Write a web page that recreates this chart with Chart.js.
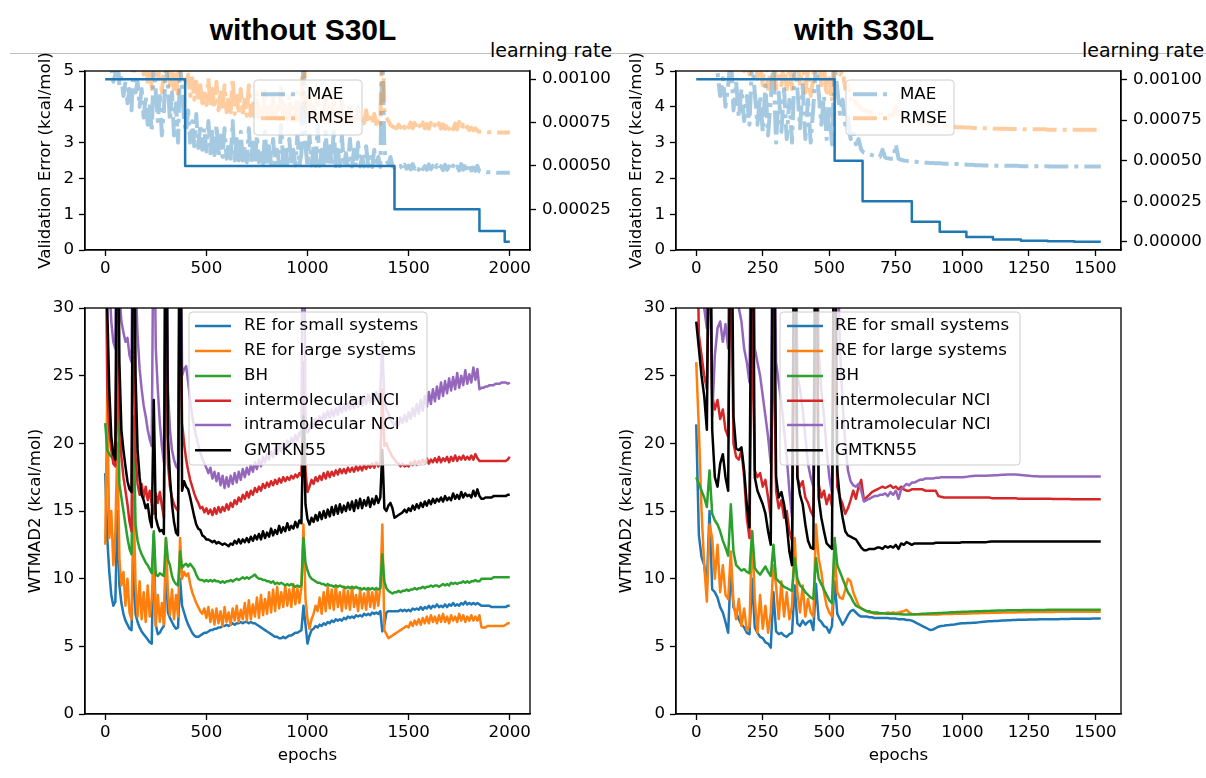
<!DOCTYPE html>
<html>
<head>
<meta charset="utf-8">
<script src="https://cdn.jsdelivr.net/npm/chart.js@4.4.0/dist/chart.umd.min.js"></script>
<style>
  body { margin: 0; width: 1206px; height: 778px; background: #fff; position: relative; overflow: hidden; }
  canvas { position: absolute; }
  .title { position: absolute; top: 15px; font: bold 30px 'Liberation Sans', Arial, sans-serif; line-height: 30px; color: #000; transform: translateX(-50%); white-space: nowrap; }
  .lr-label { position: absolute; top: 41px; font: 19px 'DejaVu Sans', sans-serif; line-height: 19px; color: #000; white-space: nowrap; }
  .rule { position: absolute; left: 10px; top: 53px; width: 1196px; height: 1px; background: #bdbdbd; }
</style>
</head>
<body>
<div class="rule"></div>
<div class="title" style="left:303px">without S30L</div>
<div class="title" style="left:864px">with S30L</div>
<div class="lr-label" style="left:490px">learning rate</div>
<div class="lr-label" style="left:1082px">learning rate</div>
<canvas id="cTL" width="620" height="250" style="left:0px;top:40px"></canvas>
<canvas id="cTR" width="616" height="250" style="left:590px;top:40px"></canvas>
<canvas id="cBL" width="620" height="485" style="left:0px;top:293px"></canvas>
<canvas id="cBR" width="616" height="485" style="left:590px;top:293px"></canvas>
<script>
// sampling interval of every series below (epochs)
const STEP = 10;

// tick labels
const xTicksNo = [0, 500, 1000, 1500, 2000];
const xTicksWith = [0, 250, 500, 750, 1000, 1250, 1500];
const errTicks = [0, 1, 2, 3, 4, 5];
const wtmadTicks = [0, 5, 10, 15, 20, 25, 30];
const lrTicks = [0, 0.00025, 0.0005, 0.00075, 0.001];

// learning rate schedules
const lrEpochsNo = [0, 395, 1430, 1850, 1975, 2000];
const lrValuesNo = [0.001, 0.0005, 0.00025, 0.000125, 0.0000625, 0.0000625];
const lrEpochsWith = [0, 520, 625, 810, 915, 1015, 1115, 1220, 1320, 1420, 1520];
const lrValuesWith = [0.001, 0.0005, 0.00025, 0.000125, 0.0000625, 0.00003125, 0.0000156, 0.0000078, 0.0000039, 0.00000195, 0.00000195];

// ---- without S30L, validation error (epochs 0..2000) ----
const maeNo = [
  7.0, 6.0, 5.4, 5.1, 4.7, 4.9, 5.5, 4.6, 4.8, 4.3,
  4.7, 4.1, 4.5, 3.9, 5.3, 4.4, 4.7, 4.0, 4.5, 3.7,
  4.3, 3.5, 4.1, 3.3, 5.2, 4.4, 3.6, 4.3, 3.2, 3.9,
  5.2, 4.6, 3.6, 4.4, 3.2, 4.1, 3.0, 5.2, 4.5, 3.6,
  3.3, 3.9, 3.0, 3.6, 2.9, 3.8, 2.85, 3.5, 2.8, 3.4,
  2.75, 3.6, 2.7, 3.3, 2.65, 3.5, 2.6, 3.2, 2.6, 3.4,
  2.55, 3.0, 2.55, 3.6, 2.5, 3.1, 2.5, 3.3, 2.5, 2.9,
  2.45, 3.4, 2.45, 3.0, 2.45, 3.2, 2.45, 2.8, 2.4, 3.3,
  2.4, 2.9, 2.4, 3.1, 2.4, 2.8, 2.4, 3.5, 2.38, 2.9,
  2.38, 3.1, 2.38, 2.8, 2.36, 3.2, 2.36, 2.7, 5.5, 2.9,
  2.36, 3.2, 2.36, 2.9, 2.35, 3.5, 2.35, 2.8, 2.35, 3.3,
  2.35, 2.9, 2.34, 3.4, 2.34, 2.8, 2.34, 3.2, 2.34, 2.7,
  2.33, 3.1, 2.33, 2.8, 2.33, 3.0, 2.33, 2.6, 2.33, 2.9,
  2.33, 2.6, 2.32, 2.8, 2.32, 2.6, 2.32, 5.5, 2.8, 2.5,
  2.4, 2.6, 2.35, 2.3, 2.32, 2.28, 2.35, 2.25, 2.38, 2.27,
  2.36, 2.25, 2.4, 2.27, 2.35, 2.24, 2.38, 2.26, 2.34, 2.24,
  2.39, 2.26, 2.35, 2.23, 2.37, 2.25, 2.34, 2.23, 2.38, 2.24,
  2.34, 2.22, 2.36, 2.24, 2.33, 2.22, 2.4, 2.24, 2.45, 2.23,
  2.36, 2.22, 2.3, 2.21, 2.35, 2.2, 2.18, 2.18, 2.18, 2.17,
  2.17, 2.17, 2.17, 2.17, 2.16, 2.16, 2.16, 2.16, 2.16, 2.16,
  2.16
];
const rmseNo = [
  9.0, 8.0, 7.2, 6.8, 6.3, 6.0, 7.0, 6.0, 6.2, 5.6,
  5.9, 5.3, 5.7, 5.1, 6.8, 5.6, 5.9, 5.2, 5.6, 4.9,
  5.4, 4.7, 5.2, 4.5, 6.5, 5.4, 4.7, 5.2, 4.4, 5.0,
  6.4, 5.5, 4.6, 5.1, 4.4, 4.9, 4.3, 6.3, 5.4, 4.8,
  4.6, 4.9, 4.3, 4.8, 4.2, 4.7, 4.15, 4.6, 4.1, 4.5,
  4.05, 4.8, 4.0, 4.5, 3.95, 4.7, 3.9, 4.4, 3.9, 4.6,
  3.85, 4.3, 3.85, 4.8, 3.8, 4.3, 3.8, 4.5, 3.78, 4.2,
  3.75, 4.6, 3.75, 4.2, 3.72, 4.4, 3.72, 4.0, 3.7, 4.5,
  3.7, 4.1, 3.68, 4.3, 3.68, 4.0, 3.66, 4.6, 3.66, 4.1,
  3.65, 4.3, 3.64, 4.0, 3.63, 4.4, 3.62, 3.9, 6.5, 4.1,
  3.62, 4.3, 3.61, 4.0, 3.6, 4.5, 3.6, 3.9, 3.6, 4.3,
  3.58, 4.0, 3.58, 4.4, 3.57, 3.9, 3.57, 4.2, 3.56, 3.8,
  3.56, 4.1, 3.55, 3.8, 3.55, 4.0, 3.55, 3.7, 3.54, 3.9,
  3.54, 3.7, 3.53, 3.8, 3.52, 3.7, 3.52, 6.5, 3.9, 3.7,
  3.6, 3.5, 3.45, 3.42, 3.4, 3.5, 3.42, 3.55, 3.4, 3.52,
  3.42, 3.56, 3.4, 3.55, 3.41, 3.53, 3.4, 3.56, 3.4, 3.52,
  3.39, 3.55, 3.4, 3.5, 3.38, 3.54, 3.39, 3.51, 3.38, 3.55,
  3.38, 3.5, 3.37, 3.53, 3.37, 3.58, 3.38, 3.5, 3.36, 3.45,
  3.35, 3.42, 3.34, 3.4, 3.33, 3.3, 3.3, 3.3, 3.3, 3.29,
  3.29, 3.29, 3.29, 3.29, 3.28, 3.28, 3.28, 3.28, 3.28, 3.28,
  3.28
];

// ---- with S30L, validation error (epochs 0..1520) ----
const maeWith = [
  8.0, 7.0, 6.3, 5.8, 5.4, 6.5, 5.5, 5.2, 4.95, 4.3,
  4.8, 4.0, 4.6, 5.5, 3.9, 4.7, 3.7, 4.5, 3.6, 4.3,
  3.5, 5.3, 4.4, 3.5, 4.3, 3.3, 4.6, 3.2, 4.2, 5.2,
  3.0, 4.4, 3.3, 4.5, 3.1, 4.2, 3.0, 5.2, 4.5, 3.4,
  4.6, 3.1, 4.2, 3.0, 4.0, 5.2, 4.4, 3.5, 4.3, 3.1,
  4.0, 2.95, 5.2, 4.5, 3.8, 4.2, 3.5, 3.7, 3.1, 3.3,
  2.95, 3.1, 2.8, 2.72, 2.7, 2.68, 2.65, 2.63, 2.6, 2.6,
  2.8, 2.58, 2.56, 2.55, 2.55, 2.95, 2.55, 2.52, 2.5, 2.49,
  2.48, 2.47, 2.47, 2.46, 2.45, 2.45, 2.44, 2.44, 2.43, 2.43,
  2.42, 2.42, 2.42, 2.41, 2.41, 2.41, 2.4, 2.4, 2.4, 2.39,
  2.39, 2.39, 2.38, 2.38, 2.38, 2.37, 2.37, 2.37, 2.36, 2.36,
  2.36, 2.36, 2.36, 2.35, 2.35, 2.35, 2.35, 2.35, 2.35, 2.35,
  2.35, 2.35, 2.34, 2.34, 2.34, 2.34, 2.34, 2.34, 2.34, 2.34,
  2.34, 2.34, 2.34, 2.33, 2.33, 2.33, 2.33, 2.33, 2.33, 2.33,
  2.33, 2.33, 2.33, 2.33, 2.33, 2.33, 2.33, 2.33, 2.33, 2.33,
  2.33, 2.33, 2.33
];
const rmseWith = [
  10.0, 9.0, 8.2, 7.5, 7.0, 8.0, 7.0, 6.6, 6.3, 5.8,
  6.2, 5.6, 6.0, 7.0, 5.4, 5.9, 5.2, 5.7, 5.0, 5.5,
  4.9, 6.5, 5.6, 4.8, 5.4, 4.6, 5.5, 4.5, 5.2, 6.3,
  4.5, 5.4, 4.6, 5.3, 4.5, 5.1, 4.5, 6.3, 5.5, 4.6,
  5.3, 4.4, 5.0, 4.3, 4.8, 6.3, 5.4, 4.6, 5.1, 4.3,
  4.8, 4.15, 6.2, 5.4, 4.9, 5.0, 4.5, 4.6, 4.2, 4.3,
  4.1, 4.05, 3.95, 3.9, 3.88, 3.86, 3.84, 3.82, 3.8, 3.8,
  3.85, 3.79, 3.78, 3.77, 3.76, 4.0, 3.74, 3.72, 3.7, 3.68,
  3.66, 3.64, 3.62, 3.6, 3.58, 3.56, 3.54, 3.52, 3.5, 3.49,
  3.48, 3.47, 3.46, 3.46, 3.45, 3.45, 3.44, 3.44, 3.43, 3.43,
  3.43, 3.42, 3.42, 3.42, 3.41, 3.41, 3.41, 3.41, 3.4, 3.4,
  3.4, 3.4, 3.39, 3.39, 3.39, 3.39, 3.39, 3.38, 3.38, 3.38,
  3.38, 3.38, 3.38, 3.37, 3.37, 3.37, 3.37, 3.37, 3.37, 3.37,
  3.37, 3.37, 3.36, 3.36, 3.36, 3.36, 3.36, 3.36, 3.36, 3.36,
  3.36, 3.36, 3.36, 3.36, 3.36, 3.36, 3.36, 3.36, 3.36, 3.36,
  3.36, 3.36, 3.36
];

// ---- without S30L, WTMAD2 (epochs 0..2000) ----
const smallNo = [
  17.8, 13.0, 10.5, 8.8, 8.0, 8.3, 15.0, 9.5, 8.2, 7.4,
  6.9, 6.6, 6.3, 6.2, 12.0, 7.4, 6.8, 6.4, 6.1, 5.9,
  5.7, 5.5, 5.3, 5.2, 13.3, 6.6, 5.9, 6.0, 6.3, 6.5,
  11.0, 7.5, 7.1, 6.8, 6.5, 6.3, 6.4, 10.0, 8.0, 7.5,
  7.0, 6.6, 6.3, 6.0, 5.8, 5.7, 5.7, 5.8, 5.9, 6.0,
  6.0, 6.1, 6.2, 6.2, 6.3, 6.3, 6.4, 6.4, 6.5, 6.5,
  6.6, 6.5, 6.6, 6.7, 6.6, 6.7, 6.7, 6.8, 6.7, 6.8,
  6.8, 6.7, 6.8, 6.7, 6.7, 6.6, 6.5, 6.4, 6.3, 6.2,
  6.1, 6.0, 5.9, 5.8, 5.7, 5.7, 5.6, 5.6, 5.7, 5.6,
  5.7, 5.8, 5.8, 5.9, 6.0, 6.0, 6.1, 6.2, 8.0, 6.6,
  5.2, 5.8, 6.2, 6.3, 6.5, 6.4, 6.6, 6.5, 6.7, 6.6,
  6.8, 6.7, 6.9, 6.8, 7.0, 6.9, 7.0, 6.9, 7.1, 7.0,
  7.2, 7.1, 7.2, 7.1, 7.3, 7.2, 7.3, 7.2, 7.4, 7.3,
  7.4, 7.3, 7.5, 7.4, 7.5, 7.4, 7.6, 6.1, 6.6, 7.5,
  7.6, 7.6, 7.6, 7.6, 7.6, 7.6, 7.7, 7.6, 7.7, 7.6,
  7.7, 7.6, 7.8, 7.7, 7.8, 7.7, 7.9, 7.7, 7.9, 7.8,
  8.0, 7.8, 8.0, 7.9, 8.1, 7.9, 8.0, 7.9, 8.1, 7.9,
  8.1, 8.0, 8.2, 8.0, 8.1, 8.0, 8.2, 8.1, 8.3, 8.1,
  8.2, 8.1, 8.2, 8.1, 8.2, 8.1, 8.0, 8.0, 8.0, 8.0,
  8.0, 7.9, 7.9, 7.9, 7.9, 7.9, 7.9, 7.9, 7.9, 8.0,
  8.0
];
const largeNo = [
  12.5, 24.0, 13.0, 15.0, 11.0, 13.5, 20.0, 11.5, 9.5, 10.5,
  8.0, 10.0, 7.5, 7.0, 16.0, 9.5, 7.2, 9.8, 7.0, 9.0,
  6.8, 9.5, 7.2, 8.5, 11.5, 6.5, 8.8, 6.8, 8.2, 6.6,
  13.0, 9.0, 7.3, 9.2, 7.0, 8.8, 7.2, 13.0, 10.0, 10.5,
  10.2, 10.4, 9.6, 9.0, 8.6, 8.2, 7.9, 7.6, 7.4, 7.8,
  7.1, 7.9, 6.8, 7.7, 6.6, 7.8, 6.7, 7.6, 6.5, 7.9,
  6.8, 7.5, 6.6, 7.8, 6.9, 8.0, 6.8, 7.7, 7.0, 8.2,
  6.9, 8.4, 7.0, 8.1, 7.2, 8.6, 7.1, 8.8, 7.3, 8.5,
  7.4, 9.0, 7.5, 9.2, 7.6, 9.4, 7.8, 9.0, 7.9, 9.5,
  8.0, 9.2, 7.9, 9.6, 8.1, 9.3, 8.2, 9.4, 14.0, 8.5,
  7.0, 6.3, 7.0, 7.4, 8.0, 7.6, 8.6, 7.4, 9.0, 7.6,
  9.4, 7.8, 9.2, 7.7, 9.5, 7.9, 9.0, 7.6, 9.3, 7.8,
  9.1, 7.7, 9.4, 7.9, 8.8, 7.6, 9.2, 7.8, 8.9, 7.7,
  9.3, 7.9, 9.0, 7.8, 9.2, 8.0, 9.4, 14.0, 6.2, 5.9,
  5.6, 5.7, 5.8, 5.9, 6.0, 6.1, 6.2, 6.3, 6.4, 6.5,
  6.4, 6.8, 6.5, 6.9, 6.6, 7.0, 6.6, 7.1, 6.7, 7.2,
  6.7, 7.3, 6.8, 7.2, 6.7, 7.3, 6.8, 7.4, 6.8, 7.2,
  6.7, 7.3, 6.9, 7.2, 6.8, 7.4, 6.9, 7.3, 6.8, 7.2,
  6.9, 7.3, 6.9, 7.2, 6.9, 7.3, 6.4, 6.4, 6.4, 6.5,
  6.5, 6.5, 6.5, 6.5, 6.5, 6.5, 6.5, 6.5, 6.6, 6.7,
  6.7
];
const bhNo = [
  21.5, 19.5, 19.2, 19.0, 18.9, 18.8, 26.0, 17.0, 16.0, 15.0,
  14.0, 13.0, 12.2, 11.8, 22.0, 14.0, 12.8, 12.2, 11.8, 11.5,
  11.2, 11.0, 10.7, 10.4, 13.5, 10.3, 10.2, 10.4, 10.3, 10.2,
  13.0, 11.4, 11.0, 10.2, 9.8, 9.6, 9.5, 12.0, 10.8, 11.0,
  11.1, 10.9, 11.1, 10.9, 10.7, 10.3, 10.0, 9.9, 9.9, 9.8,
  9.9, 9.8, 9.9, 9.8, 9.9, 9.8, 9.8, 9.7, 9.8, 9.7,
  9.8, 9.8, 9.9, 9.8, 9.9, 10.0, 9.9, 10.0, 10.1, 10.0,
  10.1, 10.0, 10.1, 10.2, 10.3, 10.1, 10.0, 10.0, 9.9, 9.9,
  9.8, 9.8, 9.7, 9.8, 9.6, 9.7, 9.6, 9.7, 9.6, 9.5,
  9.6, 9.5, 9.6, 9.5, 9.4, 9.5, 9.4, 9.5, 13.0, 11.2,
  10.6, 10.2, 10.0, 9.9, 9.8, 9.7, 9.7, 9.6, 9.6, 9.5,
  9.6, 9.5, 9.5, 9.4, 9.5, 9.4, 9.5, 9.4, 9.4, 9.3,
  9.4, 9.3, 9.4, 9.3, 9.4, 9.3, 9.3, 9.2, 9.3, 9.2,
  9.3, 9.2, 9.3, 9.2, 9.3, 9.2, 9.3, 11.8, 9.8, 9.3,
  9.1, 9.0, 8.9, 9.0, 9.0, 9.1, 9.0, 9.1, 9.1, 9.2,
  9.1, 9.2, 9.2, 9.3, 9.2, 9.3, 9.3, 9.4, 9.3, 9.4,
  9.4, 9.5, 9.4, 9.5, 9.5, 9.4, 9.5, 9.6, 9.5, 9.6,
  9.5, 9.7, 9.6, 9.7, 9.6, 9.7, 9.7, 9.8, 9.7, 9.8,
  9.7, 9.8, 9.8, 9.9, 9.8, 9.8, 10.0, 10.0, 10.0, 10.0,
  10.0, 10.0, 10.1, 10.1, 10.1, 10.1, 10.1, 10.1, 10.1, 10.1,
  10.1
];
const interNo = [
  40, 24, 21, 19.5, 18.5, 18.3, 35, 22, 19, 17.5,
  16.5, 15.5, 14.2, 13.5, 35, 19, 17.0, 16.2, 17.0, 16.0,
  16.8, 15.8, 16.5, 15.5, 14.8, 16.3, 15.6, 16.4, 15.4, 14.5,
  35, 18.5, 16.8, 16.0, 15.5, 15.2, 15.0, 35, 21.5, 20.0,
  18.8, 18.0, 17.3, 16.8, 16.3, 15.9, 15.6, 15.2, 15.3, 14.9,
  15.2, 14.8, 15.1, 14.7, 15.2, 14.8, 15.3, 14.9, 15.3, 15.0,
  15.5, 15.1, 15.6, 15.3, 15.8, 15.5, 16.0, 15.7, 16.2, 15.9,
  16.4, 16.0, 16.5, 16.2, 16.7, 16.4, 16.8, 16.5, 17.0, 16.7,
  17.1, 16.8, 17.2, 16.9, 17.3, 17.0, 17.4, 17.1, 17.5, 17.2,
  17.5, 17.3, 17.6, 17.4, 17.7, 17.5, 17.8, 17.6, 26, 18.0,
  16.4, 16.8, 17.3, 17.0, 17.5, 17.2, 17.6, 17.3, 17.8, 17.4,
  17.9, 17.5, 17.9, 17.6, 18.0, 17.7, 18.1, 17.8, 18.1, 17.8,
  18.2, 17.9, 18.2, 17.9, 18.3, 18.0, 18.3, 18.0, 18.4, 18.1,
  18.4, 18.2, 18.5, 18.2, 18.6, 18.3, 18.6, 24, 19.8, 20.0,
  19.6, 19.3, 19.0, 18.8, 18.6, 18.5, 18.3, 18.5, 18.3, 18.4,
  18.3, 18.6, 18.4, 18.7, 18.4, 18.7, 18.5, 18.8, 18.5, 18.9,
  18.5, 18.8, 18.6, 18.9, 18.6, 19.0, 18.6, 18.9, 18.7, 19.0,
  18.6, 19.0, 18.7, 19.1, 18.7, 19.0, 18.8, 19.1, 18.8, 19.0,
  18.8, 19.1, 18.8, 19.2, 18.9, 18.7, 18.7, 18.7, 18.7, 18.7,
  18.7, 18.7, 18.7, 18.7, 18.7, 18.7, 18.7, 18.7, 18.7, 18.8,
  19.0
];
const intraNo = [
  45, 36, 32, 29, 27.5, 27.0, 45, 31, 29, 28.2,
  27.5, 27.8, 26.5, 26.0, 45, 32, 28, 25.5, 24.0, 22.8,
  22.0, 21.0, 20.3, 19.8, 40, 27.0, 24.0, 21.5, 19.8, 18.6,
  45, 24, 21, 19.5, 18.8, 18.3, 18.1, 45, 25.0, 25.5,
  25.7, 24.5, 23.2, 22.0, 21.2, 20.5, 19.9, 19.3, 18.9, 18.5,
  18.2, 17.8, 18.2, 17.4, 17.9, 17.2, 17.8, 16.9, 17.6, 16.7,
  17.5, 16.8, 17.6, 17.0, 17.8, 17.1, 17.9, 17.3, 18.1, 17.5,
  18.2, 17.7, 18.4, 17.9, 18.6, 18.1, 18.8, 18.3, 19.0, 18.6,
  19.2, 18.8, 19.4, 19.0, 19.6, 19.2, 19.8, 19.4, 20.0, 19.6,
  20.2, 19.8, 20.4, 20.0, 20.6, 20.2, 20.8, 20.5, 45, 22.0,
  20.8, 21.0, 21.5, 21.2, 21.8, 21.4, 22.0, 21.6, 22.2, 21.8,
  22.4, 21.9, 22.5, 22.0, 22.6, 22.1, 22.8, 22.3, 22.9, 22.4,
  23.0, 22.5, 23.1, 22.6, 23.2, 22.7, 23.4, 22.8, 23.5, 22.9,
  23.6, 23.0, 23.7, 23.1, 23.8, 23.2, 23.9, 27.5, 23.0, 22.5,
  22.2, 21.8, 21.5, 21.3, 21.6, 21.4, 21.9, 21.5, 22.1, 21.6,
  22.3, 21.8, 22.6, 22.0, 22.9, 22.2, 23.2, 22.4, 23.5, 22.7,
  23.8, 22.9, 24.0, 23.1, 24.2, 23.3, 24.5, 23.5, 24.6, 23.7,
  24.8, 23.9, 24.9, 24.0, 25.2, 24.1, 25.0, 24.3, 25.4, 24.4,
  25.1, 24.5, 25.6, 24.7, 25.5, 24.0, 24.1, 24.1, 24.2, 24.2,
  24.3, 24.3, 24.3, 24.4, 24.4, 24.4, 24.5, 24.5, 24.5, 24.4,
  24.5
];
const gmtknNo = [
  48, 30, 24, 20.5, 19.2, 18.8, 45, 26, 21, 19.5,
  18.3, 17.2, 16.6, 16.4, 45, 25, 19.5, 17.5, 16.2, 15.8,
  15.2, 15.5, 14.4, 13.8, 23.2, 14.5, 13.9, 13.5, 13.6, 13.3,
  45, 20.5, 17.5, 15.5, 14.2, 13.4, 13.2, 45, 16.5, 17.2,
  16.8, 16.6, 16.0, 15.3, 14.6, 14.0, 13.7, 13.6, 13.2, 13.1,
  12.9, 12.9, 12.8, 12.7, 12.8, 12.6, 12.7, 12.6, 12.5, 12.6,
  12.5, 12.4, 12.6, 12.5, 12.8, 12.6, 12.9, 12.6, 12.9, 12.7,
  13.0, 12.7, 13.1, 12.8, 13.2, 12.9, 13.3, 12.9, 13.5, 13.0,
  13.4, 13.1, 13.7, 13.2, 13.6, 13.3, 13.9, 13.4, 13.8, 13.5,
  14.1, 13.6, 13.9, 13.7, 14.2, 13.8, 14.3, 14.1, 22.0, 15.5,
  14.4, 14.0, 14.5, 14.2, 14.7, 14.3, 14.9, 14.4, 15.0, 14.5,
  15.1, 14.6, 15.3, 14.7, 15.4, 14.8, 15.5, 14.9, 15.4, 15.0,
  15.6, 15.1, 15.7, 15.0, 15.8, 15.2, 15.9, 15.2, 15.8, 15.4,
  16.0, 15.3, 15.9, 15.5, 16.1, 15.6, 16.0, 19.5, 15.2, 15.0,
  15.4, 15.6, 15.2, 14.5, 14.6, 14.7, 14.8, 14.9, 15.1, 14.9,
  15.2, 15.0, 15.4, 15.1, 15.5, 15.2, 15.6, 15.3, 15.7, 15.4,
  15.8, 15.5, 15.9, 15.6, 15.9, 15.7, 16.0, 15.7, 16.1, 15.8,
  16.0, 15.8, 16.3, 15.9, 16.2, 15.9, 16.4, 16.0, 16.3, 16.1,
  16.2, 16.0, 16.5, 16.1, 16.6, 16.1, 15.9, 15.9, 16.0, 16.0,
  16.0, 16.0, 16.1, 16.1, 16.1, 16.1, 16.1, 16.1, 16.1, 16.2,
  16.2
];

// ---- with S30L, WTMAD2 (epochs 0..1520) ----
const smallWith = [
  21.4, 13.2, 11.6, 11.0, 9.6, 15.0, 9.2, 9.0, 8.6, 7.9,
  7.5, 6.8, 6.0, 10.8, 7.9, 7.5, 7.0, 6.6, 6.4, 6.0,
  5.9, 10.0, 6.4, 6.0, 5.7, 5.6, 5.3, 5.2, 4.9, 9.0,
  6.1, 5.9, 6.0, 5.8, 5.7, 5.9, 6.0, 9.5, 6.7, 6.5,
  6.9, 6.6, 6.8, 6.9, 6.2, 9.6, 7.0, 6.8, 6.5, 6.4,
  6.0, 6.5, 9.8, 7.4, 7.0, 6.6, 6.9, 7.3, 7.6, 7.7,
  7.5, 7.3, 7.2, 7.2, 7.2, 7.15, 7.15, 7.1, 7.1, 7.1,
  7.1, 7.1, 7.1, 7.05, 7.05, 7.05, 7.0, 7.0, 7.0, 6.95,
  6.95, 6.9, 6.8, 6.7, 6.6, 6.5, 6.4, 6.3, 6.2, 6.25,
  6.35, 6.45, 6.5, 6.52, 6.55, 6.57, 6.6, 6.62, 6.65, 6.68,
  6.7, 6.71, 6.72, 6.73, 6.74, 6.75, 6.77, 6.79, 6.81, 6.83,
  6.85, 6.86, 6.87, 6.88, 6.89, 6.9, 6.91, 6.92, 6.93, 6.94,
  6.95, 6.96, 6.96, 6.97, 6.97, 6.98, 6.98, 6.99, 6.99, 7.0,
  7.0, 7.0, 7.0, 7.01, 7.01, 7.01, 7.01, 7.02, 7.02, 7.02,
  7.02, 7.03, 7.03, 7.03, 7.03, 7.04, 7.04, 7.04, 7.04, 7.05,
  7.05, 7.05, 7.05
];
const largeWith = [
  26.0, 21.0, 15.0, 11.0, 8.3, 14.0, 13.0, 10.0, 12.5, 9.0,
  11.0, 8.8, 8.5, 12.0, 8.2, 7.0, 8.5, 6.5, 7.8, 6.2,
  6.5, 13.5, 8.5, 6.0, 8.8, 6.3, 8.0, 6.0, 7.5, 11.0,
  9.5, 7.0, 9.8, 7.2, 9.0, 7.0, 8.0, 13.0, 9.0, 7.5,
  9.5, 7.2, 8.5, 7.5, 7.2, 14.0, 11.5, 10.5, 9.0, 8.0,
  7.5, 7.2, 12.0, 9.0, 8.6, 8.5, 9.2, 10.0, 9.8, 9.0,
  8.5, 8.0, 7.8, 7.7, 7.6, 7.5, 7.5, 7.4, 7.4, 7.4,
  7.45, 7.45, 7.5, 7.45, 7.5, 7.45, 7.5, 7.55, 7.6, 7.7,
  7.5, 7.4, 7.35, 7.35, 7.35, 7.35, 7.35, 7.35, 7.35, 7.35,
  7.35, 7.36, 7.37, 7.38, 7.38, 7.39, 7.39, 7.4, 7.4, 7.4,
  7.4, 7.41, 7.42, 7.43, 7.44, 7.45, 7.45, 7.46, 7.46, 7.47,
  7.47, 7.48, 7.48, 7.49, 7.49, 7.5, 7.5, 7.5, 7.5, 7.5,
  7.5, 7.51, 7.51, 7.52, 7.52, 7.52, 7.53, 7.53, 7.53, 7.53,
  7.54, 7.54, 7.54, 7.54, 7.54, 7.55, 7.55, 7.55, 7.55, 7.55,
  7.55, 7.55, 7.55, 7.55, 7.55, 7.55, 7.56, 7.56, 7.56, 7.56,
  7.56, 7.56, 7.56
];
const bhWith = [
  17.5, 17.0, 16.5, 16.0, 15.3, 18.0, 14.8, 14.3, 14.0, 13.5,
  12.8, 12.3, 11.7, 15.5, 12.0, 11.0, 10.8, 10.6, 10.7, 10.5,
  10.4, 13.5, 10.8, 10.5, 10.3, 10.6, 10.9, 10.5, 10.2, 12.5,
  10.0, 9.8, 9.6, 9.4, 9.3, 9.2, 9.1, 11.5, 10.0, 9.5,
  9.3, 9.0, 8.8, 8.6, 8.5, 11.5, 10.0, 9.6, 9.2, 8.8,
  8.4, 8.2, 13.0, 11.0, 10.5, 10.0, 9.5, 9.0, 8.7, 8.3,
  8.0, 7.9, 7.8, 7.7, 7.6, 7.6, 7.5, 7.5, 7.5, 7.45,
  7.45, 7.42, 7.4, 7.4, 7.4, 7.38, 7.38, 7.37, 7.36, 7.35,
  7.35, 7.36, 7.37, 7.38, 7.39, 7.4, 7.41, 7.42, 7.43, 7.44,
  7.45, 7.46, 7.47, 7.48, 7.49, 7.5, 7.51, 7.52, 7.53, 7.54,
  7.55, 7.56, 7.56, 7.57, 7.58, 7.59, 7.6, 7.6, 7.61, 7.62,
  7.62, 7.63, 7.63, 7.64, 7.64, 7.65, 7.65, 7.66, 7.66, 7.66,
  7.67, 7.67, 7.67, 7.68, 7.68, 7.68, 7.68, 7.69, 7.69, 7.69,
  7.69, 7.69, 7.7, 7.7, 7.7, 7.7, 7.7, 7.7, 7.7, 7.7,
  7.7, 7.7, 7.7, 7.7, 7.7, 7.7, 7.7, 7.7, 7.7, 7.7,
  7.7, 7.7, 7.7
];
const interWith = [
  40, 28, 26.5, 25, 24, 35, 23.5, 22.5, 23.2, 21.8,
  22.5, 21.0, 20.5, 35, 20.0, 19.0, 18.8, 19.5, 17.5, 14.5,
  13.0, 30, 18.0, 17.5, 17.8, 16.8, 17.3, 16.0, 14.5, 30,
  16.5, 15.2, 15.8, 14.5, 15.0, 13.5, 12.8, 30, 17.5, 16.8,
  17.2, 16.0, 15.6, 15.0, 14.6, 30, 17.0, 16.0, 16.5, 15.5,
  16.2, 15.4, 30, 16.8, 16.0, 15.5, 14.8, 15.2, 15.8, 16.5,
  15.9, 16.8, 17.3, 15.8, 16.0, 16.2, 16.4, 16.5, 16.6, 16.7,
  16.8, 16.7, 16.8, 16.9, 16.7, 16.8, 16.6, 16.8, 16.6, 16.5,
  16.5, 16.6, 16.6, 16.6, 16.6, 16.6, 16.5, 16.5, 16.5, 16.5,
  16.5, 16.1, 16.05, 16.0, 16.0, 16.0, 16.0, 16.0, 16.0, 16.0,
  16.0, 16.0, 16.0, 16.0, 16.0, 16.0, 16.0, 16.0, 16.0, 16.0,
  16.0, 15.95, 15.95, 15.95, 15.95, 15.95, 15.95, 15.95, 15.95, 15.95,
  15.95, 15.9, 15.9, 15.9, 15.9, 15.9, 15.9, 15.9, 15.9, 15.9,
  15.9, 15.9, 15.9, 15.9, 15.88, 15.88, 15.88, 15.88, 15.88, 15.88,
  15.88, 15.87, 15.87, 15.87, 15.87, 15.87, 15.86, 15.86, 15.86, 15.86,
  15.86, 15.86, 15.86
];
const intraWith = [
  45, 36, 32, 30, 28.5, 45, 22.0, 26.5, 28.5, 29.0,
  27.5, 28.8, 27.0, 45, 32, 31, 30, 29, 27, 26.0,
  24.5, 45, 27.0, 26.0, 25.0, 23.5, 22.0, 20.5, 18.5, 45,
  26.0, 24.5, 23.0, 21.0, 19.0, 16.5, 14.5, 45, 25.0, 24.0,
  22.5, 20.5, 18.5, 17.5, 16.8, 45, 27.0, 24.0, 22.0, 19.5,
  17.5, 16.3, 45, 35, 27, 23, 20.0, 18.0, 17.2, 16.9,
  16.8, 17.0, 16.5, 15.7, 15.8, 15.9, 16.0, 16.1, 16.1, 16.2,
  16.2, 16.3, 16.1, 16.4, 16.2, 16.5, 15.9, 16.6, 16.8, 17.0,
  16.9, 17.1, 17.1, 17.2, 17.3, 17.3, 17.4, 17.4, 17.4, 17.4,
  17.45, 17.45, 17.5, 17.5, 17.5, 17.5, 17.5, 17.5, 17.5, 17.5,
  17.5, 17.52, 17.54, 17.56, 17.58, 17.6, 17.6, 17.6, 17.6, 17.6,
  17.62, 17.63, 17.64, 17.65, 17.66, 17.67, 17.68, 17.69, 17.7, 17.7,
  17.7, 17.68, 17.66, 17.64, 17.62, 17.6, 17.58, 17.57, 17.56, 17.55,
  17.55, 17.55, 17.55, 17.55, 17.55, 17.55, 17.55, 17.55, 17.55, 17.55,
  17.55, 17.55, 17.55, 17.55, 17.55, 17.55, 17.55, 17.55, 17.55, 17.55,
  17.55, 17.55, 17.55
];
const gmtknWith = [
  29, 27, 25, 23.5, 21, 45, 21, 17.5, 16.8, 18.5,
  19.2, 17.5, 16.5, 45, 22, 19.6, 19.5, 19.7, 18.0, 15.5,
  13.8, 45, 17.5, 16.5, 16.0, 15.5, 14.8, 13.5, 12.5, 45,
  17.5, 16.0, 16.4, 15.5, 14.0, 12.0, 11.0, 45, 17.5, 16.2,
  15.5, 14.0, 12.8, 12.3, 12.2, 45, 16.0, 14.5, 13.5, 12.6,
  12.4, 12.2, 45, 18.0, 15.8, 14.5, 13.5, 13.2, 13.1, 13.0,
  12.9, 12.6, 12.3, 12.1, 12.1, 12.2, 12.2, 12.2, 12.3, 12.3,
  12.2, 12.4, 12.3, 12.4, 12.3, 12.5, 12.2, 12.6, 12.5, 12.7,
  12.6, 12.5, 12.6, 12.6, 12.6, 12.6, 12.6, 12.6, 12.6, 12.6,
  12.65, 12.65, 12.65, 12.65, 12.65, 12.65, 12.65, 12.65, 12.65, 12.65,
  12.7, 12.7, 12.7, 12.7, 12.7, 12.7, 12.7, 12.7, 12.7, 12.7,
  12.72, 12.74, 12.75, 12.75, 12.75, 12.75, 12.75, 12.75, 12.75, 12.75,
  12.75, 12.75, 12.75, 12.75, 12.75, 12.75, 12.75, 12.75, 12.75, 12.75,
  12.75, 12.75, 12.75, 12.75, 12.75, 12.75, 12.75, 12.75, 12.75, 12.75,
  12.75, 12.75, 12.75, 12.75, 12.75, 12.75, 12.75, 12.75, 12.75, 12.75,
  12.75, 12.75, 12.75
];

const BLUE = '#1f77b4', ORANGE = '#ff7f0e', GREEN = '#2ca02c', RED = '#d62728', PURPLE = '#9467bd', BLACK = '#000000';
const FONT = { family: "'DejaVu Sans'", size: 16.67 };

Chart.defaults.font.family = "'DejaVu Sans'";
Chart.defaults.color = '#000';

const toPoints = vals => vals.map((v, i) => ({ x: i * STEP, y: v }));
const pairPoints = (xs, ys) => xs.map((x, i) => ({ x: x, y: ys[i] }));

function lineDs(label, data, color, order, extra) {
  return Object.assign({
    label: label, data: data, borderColor: color, borderWidth: 2.5,
    pointRadius: 0, tension: 0, order: order, clip: 0,
    borderJoinStyle: 'round', inLegend: true
  }, extra || {});
}

const GRID = { display: true, drawOnChartArea: false, drawTicks: true, tickLength: 6, tickWidth: 1.33, tickColor: '#000' };
const BORDER = { display: true, color: '#000', width: 1.33 };

function fixedTicks(values) {
  return scale => {
    scale.ticks = values.filter(v => v >= scale.min - 1e-12 && v <= scale.max + 1e-12).map(v => ({ value: v }));
  };
}

function xAxis(min, max, ticks, height, title) {
  return {
    type: 'linear', position: 'bottom', min: min, max: max,
    afterBuildTicks: fixedTicks(ticks),
    afterFit: s => { s.height = height; },
    grid: GRID, border: BORDER,
    ticks: { color: '#000', font: FONT, padding: 3, maxRotation: 0, minRotation: 0, autoSkip: false, callback: v => String(v) },
    title: title ? { display: true, text: title, font: FONT, color: '#000', padding: 0 } : { display: false }
  };
}

function yAxis(position, min, max, ticks, width, title, fmt) {
  return {
    type: 'linear', position: position, min: min, max: max,
    afterBuildTicks: fixedTicks(ticks),
    afterFit: s => { s.width = width; },
    grid: GRID, border: BORDER,
    ticks: { color: '#000', font: FONT, padding: position === 'left' ? 5 : 6, autoSkip: false, callback: fmt || (v => String(v)) },
    title: title ? { display: true, text: title, font: FONT, color: '#000', padding: 0 } : { display: false }
  };
}

// draws the full axes frame and a matplotlib-like legend box (page coordinates)
function decor(offset, legend) {
  return {
    id: 'decor',
    afterDatasetsDraw(chart) {
      const ctx = chart.ctx, a = chart.chartArea;
      const ox = offset[0], oy = offset[1];
      ctx.save();
      ctx.strokeStyle = '#000';
      ctx.lineWidth = 1.33;
      ctx.strokeRect(a.left, a.top, a.right - a.left, a.bottom - a.top);

      const x0 = legend.box[0] - ox, y0 = legend.box[1] - oy;
      const w = legend.box[2] - legend.box[0], h = legend.box[3] - legend.box[1];
      ctx.beginPath();
      ctx.roundRect(x0, y0, w, h, 3.5);
      ctx.fillStyle = 'rgba(255,255,255,0.8)';
      ctx.fill();
      ctx.strokeStyle = '#cccccc';
      ctx.lineWidth = 1;
      ctx.stroke();

      const items = chart.data.datasets.filter(d => d.inLegend);
      ctx.font = "16.67px 'DejaVu Sans'";
      ctx.textBaseline = 'middle';
      items.forEach((d, i) => {
        const y = legend.rows[i] - oy;
        ctx.beginPath();
        ctx.setLineDash(d.borderDash || []);
        ctx.strokeStyle = d.borderColor;
        ctx.lineWidth = d.borderWidth;
        ctx.moveTo(legend.line[0] - ox, y);
        ctx.lineTo(legend.line[1] - ox, y);
        ctx.stroke();
        ctx.setLineDash([]);
        ctx.fillStyle = '#000';
        ctx.fillText(d.label, legend.textX - ox, y);
      });
      ctx.restore();
    }
  };
}

const baseOptions = (padding, scales) => ({
  responsive: false,
  animation: false,
  events: [],
  layout: { padding: padding },
  plugins: { legend: { display: false }, tooltip: { enabled: false } },
  scales: scales
});

const MAE_STYLE = { borderWidth: 4, borderDash: [24, 6, 4, 6], borderCapStyle: 'butt' };

function errorChart(id, offset, xMin, xMax, xTicks, mae, rmse, lrX, lrY, lrMin, lrMax, padLeft, rightWidth, legend) {
  new Chart(document.getElementById(id), {
    type: 'line',
    data: {
      datasets: [
        lineDs('learning rate', pairPoints(lrX, lrY), BLUE, 0, { yAxisID: 'lr', stepped: true, inLegend: false }),
        lineDs('MAE', toPoints(mae), 'rgba(31,119,180,0.4)', 2, MAE_STYLE),
        lineDs('RMSE', toPoints(rmse), 'rgba(255,127,14,0.4)', 1, MAE_STYLE)
      ]
    },
    options: baseOptions({ top: 31, left: padLeft, right: 0, bottom: 0 }, {
      x: xAxis(xMin, xMax, xTicks, 40, null),
      y: yAxis('left', 0, 5, errTicks, 49, 'Validation Error (kcal/mol)'),
      lr: yAxis('right', lrMin, lrMax, lrTicks, rightWidth, null, v => v.toFixed(5))
    }),
    plugins: [decor(offset, legend)]
  });
}

function wtmadChart(id, offset, xMin, xMax, xTicks, s, padLeft, padRight, legend) {
  new Chart(document.getElementById(id), {
    type: 'line',
    data: {
      datasets: [
        lineDs('RE for small systems', toPoints(s[0]), BLUE, 6),
        lineDs('RE for large systems', toPoints(s[1]), ORANGE, 5),
        lineDs('BH', toPoints(s[2]), GREEN, 4),
        lineDs('intermolecular NCI', toPoints(s[3]), RED, 3),
        lineDs('intramolecular NCI', toPoints(s[4]), PURPLE, 2),
        lineDs('GMTKN55', toPoints(s[5]), BLACK, 1)
      ]
    },
    options: baseOptions({ top: 11, left: padLeft, right: padRight, bottom: 12 }, {
      x: xAxis(xMin, xMax, xTicks, 52, 'epochs'),
      y: yAxis('left', 0, 30, wtmadTicks, 59, 'WTMAD2 (kcal/mol)')
    }),
    plugins: [decor(offset, legend)]
  });
}

errorChart('cTL', [0, 40], -100, 2100, xTicksNo, maeNo, rmseNo, lrEpochsNo, lrValuesNo, 0.0000156, 0.0010469, 36, 90,
  { box: [254, 80, 362, 135], line: [261, 296], textX: 307, rows: [94.3, 118.3] });
errorChart('cTR', [590, 40], -76, 1596, xTicksWith, maeWith, rmseWith, lrEpochsWith, lrValuesWith, -0.0000494, 0.0010514, 37, 85,
  { box: [846, 80, 954, 135], line: [853, 888], textX: 900, rows: [94.3, 118.3] });

wtmadChart('cBL', [0, 293], -100, 2100, xTicksNo, [smallNo, largeNo, bhNo, interNo, intraNo, gmtknNo], 26, 90,
  { box: [189, 312, 427, 465], line: [195, 231], textX: 244, rows: [326, 351, 376, 400.7, 425, 450.3] });
wtmadChart('cBR', [590, 293], -76, 1596, xTicksWith, [smallWith, largeWith, bhWith, interWith, intraWith, gmtknWith], 27, 85,
  { box: [780, 312, 1020, 465], line: [787, 823], textX: 835, rows: [326, 351, 376, 400.7, 425, 450.3] });
</script>
</body>
</html>
